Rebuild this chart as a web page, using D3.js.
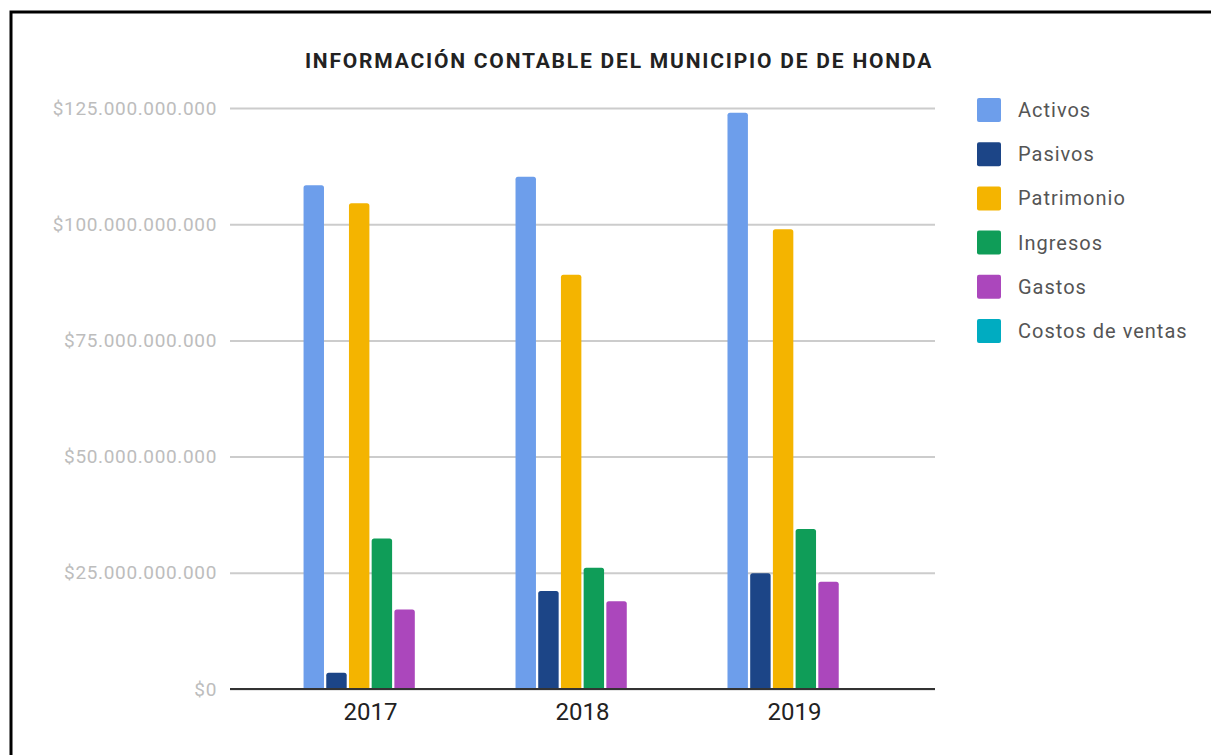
<!DOCTYPE html>
<html>
<head>
<meta charset="utf-8">
<script src="https://cdn.jsdelivr.net/npm/d3@7"></script>
<style>
	html, body { margin: 0; padding: 0; background: #fff; }
	svg { display: block; font-family: Roboto, 'Open Sans', sans-serif; }
</style>
</head>
<body>
<svg id="chart" width="1211" height="755"></svg>
<script>
const TITLE = 'INFORMACIÓN CONTABLE DEL MUNICIPIO DE DE HONDA';
const YEARS = ['2017', '2018', '2019'];
const SERIES = ['Activos', 'Pasivos', 'Patrimonio', 'Ingresos', 'Gastos', 'Costos de ventas'];
const COLORS = ['#6d9eeb', '#1c4587', '#f4b400', '#0f9d58', '#ab47bc', '#00acc1'];
// values in pesos, one list per series (2017, 2018, 2019)
const ACTIVOS = [108.4e9, 110.2e9, 124.0e9];
const PASIVOS = [3.5e9, 21.1e9, 24.9e9];
const PATRIMONIO = [104.5e9, 89.1e9, 98.9e9];
const INGRESOS = [32.4e9, 26.1e9, 34.4e9];
const GASTOS = [17.1e9, 18.9e9, 23.1e9];
const COSTOS = [0, 0, 0];
const Y_TICKS = [0, 25e9, 50e9, 75e9, 100e9, 125e9];

const VALUES = [ACTIVOS, PASIVOS, PATRIMONIO, INGRESOS, GASTOS, COSTOS];

const $svg = d3.select('#chart');
const plotLeft = 230;
const plotRight = 935;
const plotTop = 108;
const plotBottom = 689;

const locale = d3.formatLocale({
	decimal: ',',
	thousands: '.',
	grouping: [3],
	currency: ['$', '']
});
const fmt = locale.format('$,.0f');

const x0 = d3
	.scaleBand()
	.domain(YEARS)
	.range([plotLeft, plotRight])
	.paddingInner(0.368)
	.paddingOuter(0.347);
const x1 = d3
	.scaleBand()
	.domain(SERIES)
	.range([0, x0.bandwidth()])
	.paddingInner(0.1);
const y = d3.scaleLinear().domain([0, 125e9]).range([plotBottom, plotTop]);
const color = d3.scaleOrdinal().domain(SERIES).range(COLORS);

// frame
$svg
	.append('rect')
	.attr('x', 11)
	.attr('y', 12)
	.attr('width', 1220)
	.attr('height', 800)
	.attr('fill', 'none')
	.attr('stroke', '#000')
	.attr('stroke-width', 3);

$svg
	.append('text')
	.attr('x', 619)
	.attr('y', 68)
	.attr('text-anchor', 'middle')
	.attr('font-size', 21)
	.attr('letter-spacing', 1.8)
	.attr('font-weight', 'bold')
	.attr('fill', '#222')
	.text(TITLE);

// y grid + labels
const $yAxis = $svg
	.append('g')
	.attr('transform', `translate(${plotLeft},0)`)
	.call(
		d3
			.axisLeft(y)
			.tickValues(Y_TICKS)
			.tickFormat(fmt)
			.tickSize(-(plotRight - plotLeft))
			.tickPadding(13)
	);
$yAxis.select('.domain').remove();
$yAxis.selectAll('.tick line').attr('stroke', '#cccccc').attr('stroke-width', 2);
$yAxis
	.selectAll('.tick text')
	.attr('fill', '#bdbdbd')
	.attr('font-size', 19)
	.attr('letter-spacing', 0.65)
	.attr('font-family', 'Roboto, sans-serif');

// bars
const data = YEARS.map((yr, i) => ({
	year: yr,
	values: SERIES.map((s, j) => ({ key: s, value: VALUES[j][i] }))
}));

const barPath = (x, yTop, w, h, r) => {
	const rr = Math.min(r, h);
	return `M${x},${yTop + h}V${yTop + rr}Q${x},${yTop} ${x + rr},${yTop}H${x + w - rr}Q${x + w},${yTop} ${x + w},${yTop + rr}V${yTop + h}Z`;
};

const $group = $svg
	.selectAll('.year')
	.data(data)
	.enter()
	.append('g')
	.attr('class', 'year')
	.attr('transform', d => `translate(${x0(d.year)},0)`);

$group
	.selectAll('path')
	.data(d => d.values.filter(v => v.value > 0))
	.enter()
	.append('path')
	.attr('fill', d => color(d.key))
	.attr('d', d => barPath(x1(d.key), y(d.value), x1.bandwidth(), plotBottom - y(d.value), 2.5));

// baseline + x labels
const $xAxis = $svg
	.append('g')
	.attr('transform', `translate(0,${plotBottom})`)
	.call(d3.axisBottom(x0).tickSize(0).tickPadding(14));
$xAxis.select('.domain').remove();
$xAxis
	.selectAll('.tick text')
	.attr('fill', '#222')
	.attr('font-size', 24)
	.attr('font-family', 'Roboto, sans-serif');

$svg
	.append('line')
	.attr('x1', plotLeft)
	.attr('x2', plotRight)
	.attr('y1', plotBottom)
	.attr('y2', plotBottom)
	.attr('stroke', '#333')
	.attr('stroke-width', 2);

// legend
const $legend = $svg
	.selectAll('.legend')
	.data(SERIES)
	.enter()
	.append('g')
	.attr('class', 'legend')
	.attr('transform', (d, i) => `translate(977,${110 + i * 44.2})`);

$legend
	.append('rect')
	.attr('x', 0)
	.attr('y', -12)
	.attr('width', 24)
	.attr('height', 24)
	.attr('rx', 2)
	.attr('fill', d => color(d));

$legend
	.append('text')
	.attr('x', 41)
	.attr('y', 0)
	.attr('dy', '0.35em')
	.attr('font-size', 20)
	.attr('letter-spacing', 1)
	.attr('fill', '#555')
	.text(d => d);
</script>
</body>
</html>
